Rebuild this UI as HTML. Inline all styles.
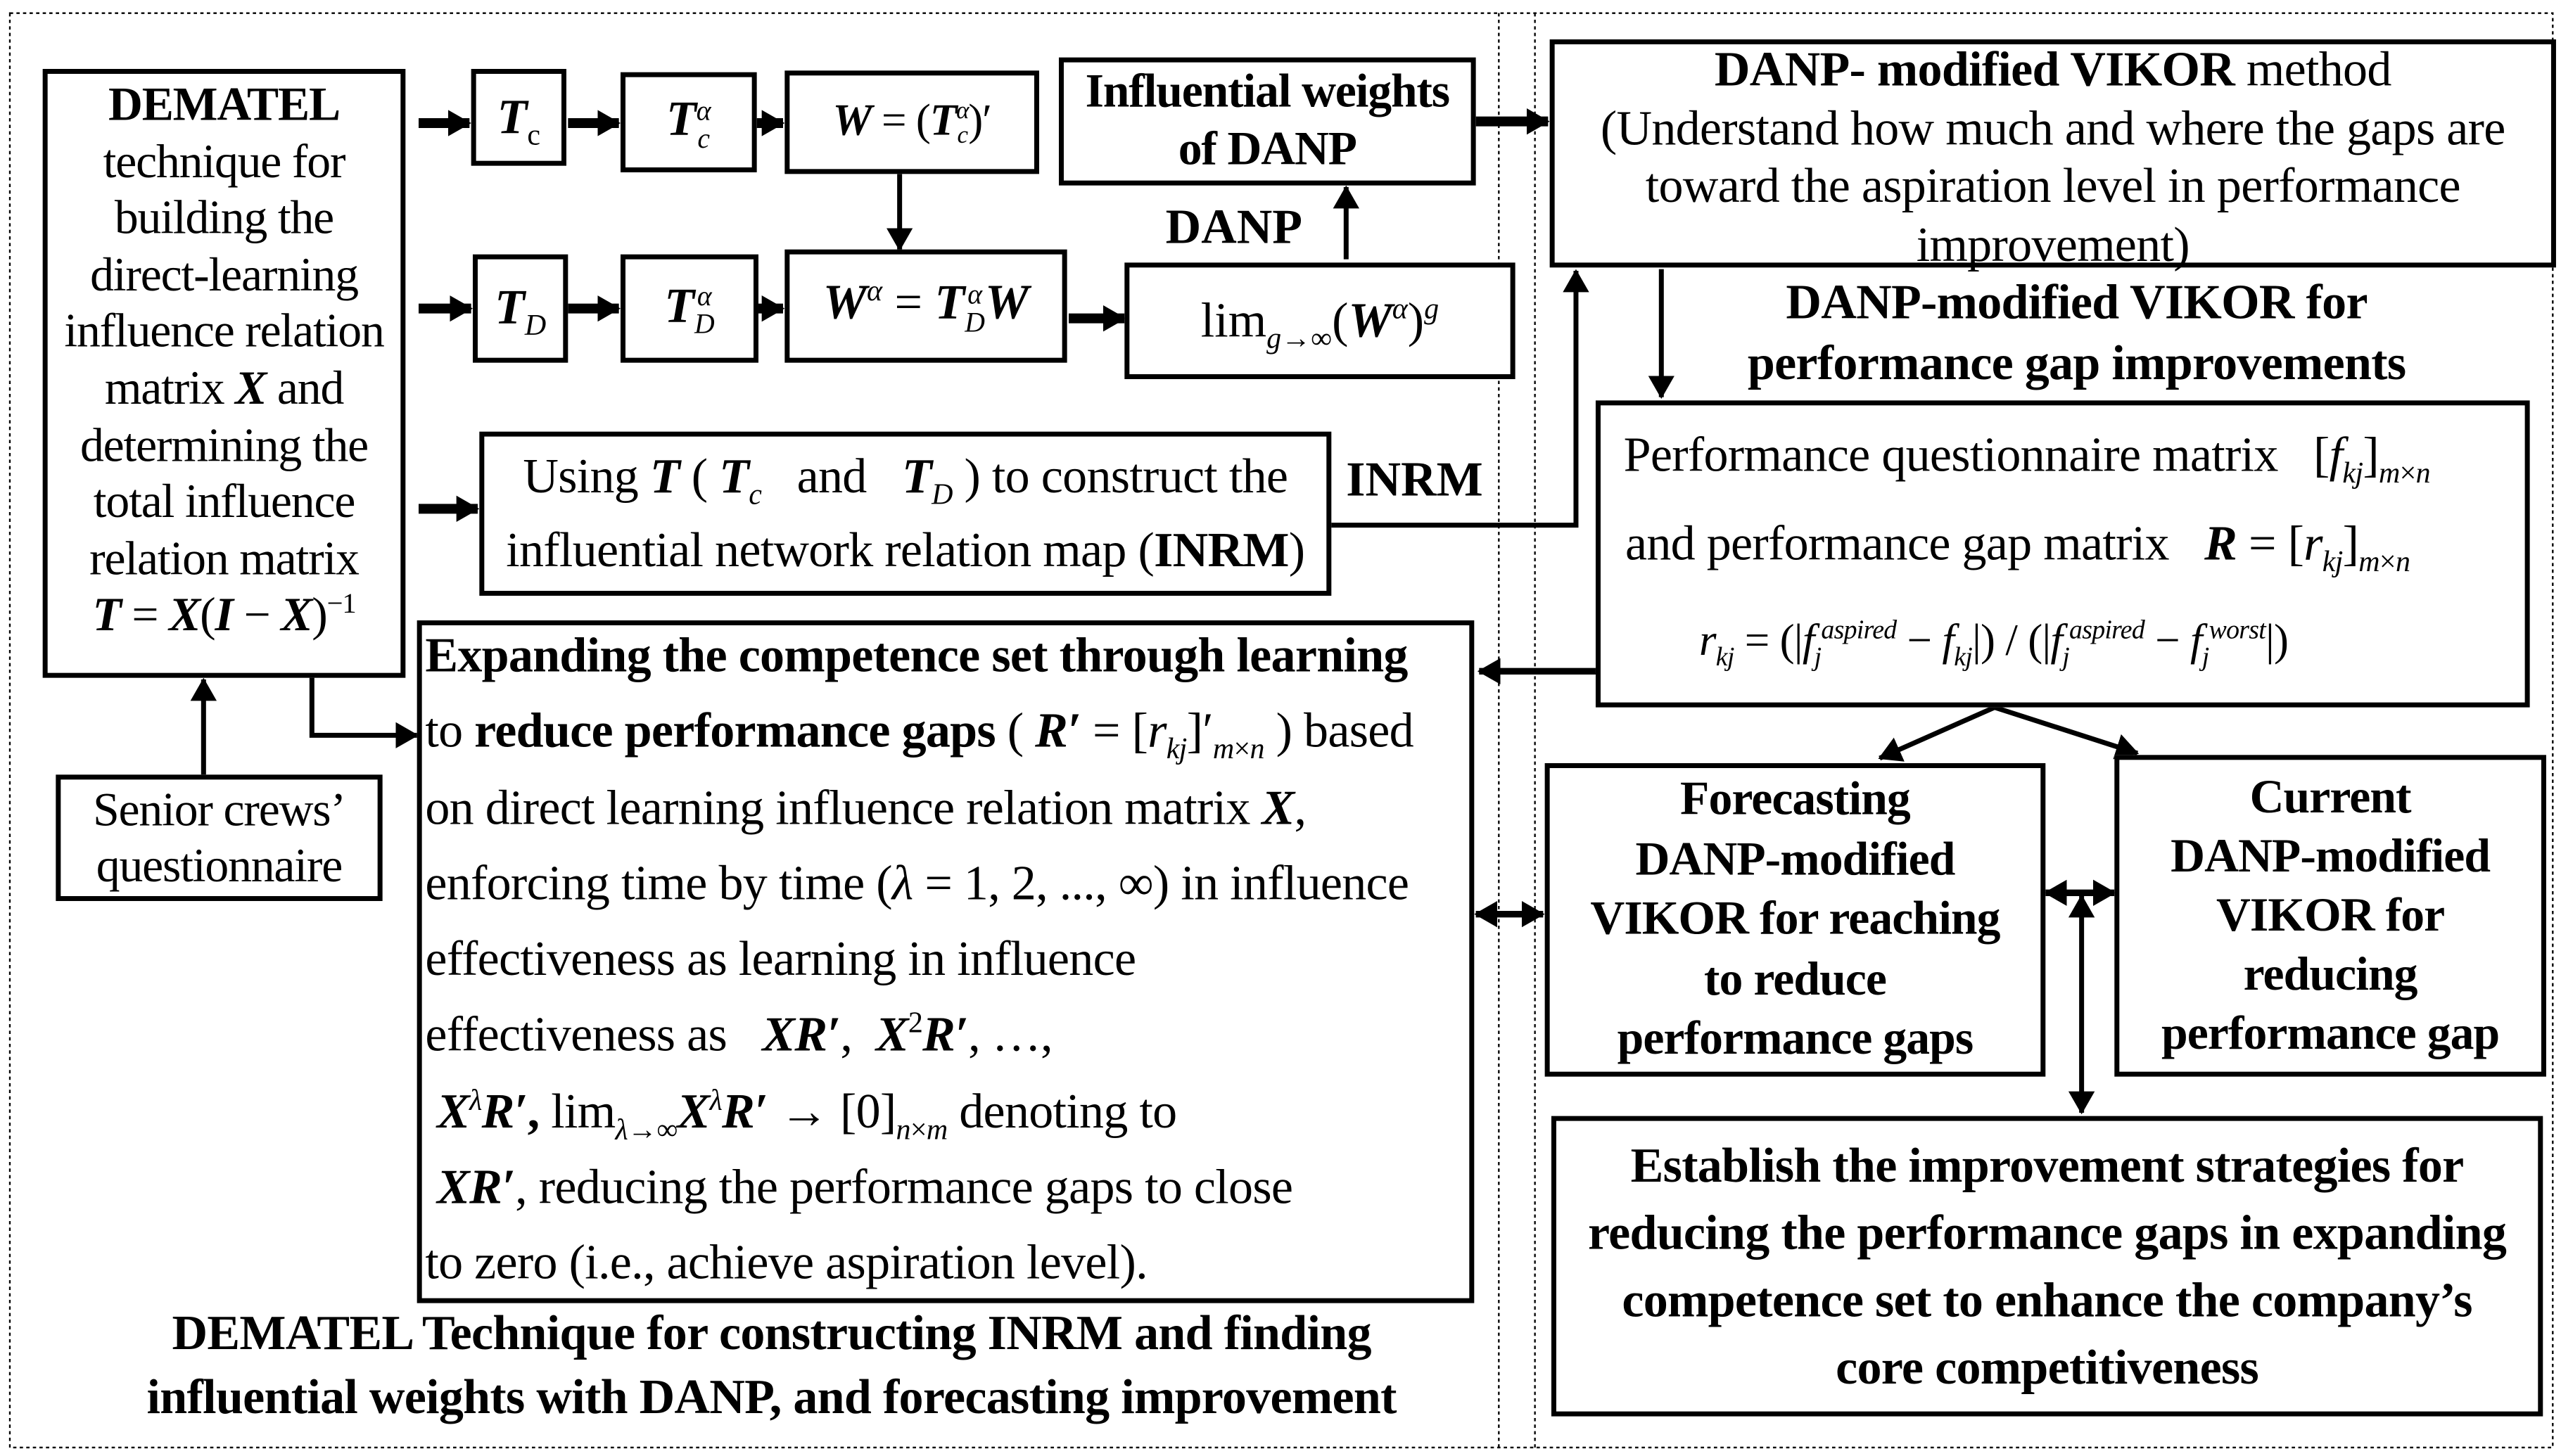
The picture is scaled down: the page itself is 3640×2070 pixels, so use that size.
<!DOCTYPE html>
<html><head><meta charset="utf-8"><style>
html,body{margin:0;padding:0;background:#fff;}
#wrap{position:relative;width:1560px;height:887px;transform:scale(2.3333);transform-origin:0 0;font-family:"Liberation Serif",serif;color:#000;}
.b{position:absolute;border:3px solid #000;box-sizing:border-box;background:#fff;}
.t{position:absolute;text-align:center;white-space:nowrap;}
.c{display:flex;align-items:center;justify-content:center;text-align:center;}
i{font-style:italic}
sub,sup{font-size:60%;line-height:0}
.bd{font-weight:bold}
.st{display:inline-flex;flex-direction:column;vertical-align:middle;line-height:17px;font-size:17px}
</style></head><body><div id="wrap">
<svg width="1560" height="887" style="position:absolute;left:0;top:0">
<defs><marker id="a" markerWidth="14" markerHeight="16" refX="13" refY="8" orient="auto" markerUnits="userSpaceOnUse"><path d="M0,0 L14,8 L0,16 z" fill="#000"/></marker>
<marker id="s" markerWidth="14" markerHeight="16" refX="1" refY="8" orient="auto" markerUnits="userSpaceOnUse"><path d="M14,0 L0,8 L14,16 z" fill="#000"/></marker></defs>
<rect x="6" y="8" width="1549" height="874" fill="none" stroke="#000" stroke-width="1" stroke-dasharray="2,2"/>
<line x1="913" y1="8" x2="913" y2="882" stroke="#000" stroke-width="1" stroke-dasharray="2,2"/>
<line x1="935" y1="8" x2="935" y2="882" stroke="#000" stroke-width="1" stroke-dasharray="2,2"/>
<g stroke="#000" fill="none">
<line x1="255" y1="75" x2="286" y2="75" stroke-width="6" marker-end="url(#a)" />
<line x1="346" y1="75" x2="377" y2="75" stroke-width="6" marker-end="url(#a)"/>
<line x1="461" y1="75" x2="477" y2="75" stroke-width="6" marker-end="url(#a)"/>
<line x1="255" y1="188" x2="287" y2="188" stroke-width="6" marker-end="url(#a)"/>
<line x1="346" y1="188" x2="377" y2="188" stroke-width="6" marker-end="url(#a)"/>
<line x1="462" y1="188" x2="477" y2="188" stroke-width="6" marker-end="url(#a)"/>
<line x1="651" y1="194" x2="685" y2="194" stroke-width="6" marker-end="url(#a)"/>
<line x1="255" y1="310" x2="291" y2="310" stroke-width="6" marker-end="url(#a)"/>
<line x1="899" y1="74" x2="943" y2="74" stroke-width="6" marker-end="url(#a)"/>
<line x1="548" y1="106" x2="548" y2="152" stroke-width="3" marker-end="url(#a)"/>
<line x1="820" y1="158" x2="820" y2="114" stroke-width="3" marker-end="url(#a)"/>
<polyline points="810,320 960,320 960,165" stroke-width="3" marker-end="url(#a)"/>
<line x1="1012" y1="164" x2="1012" y2="242" stroke-width="3" marker-end="url(#a)"/>
<line x1="972" y1="409" x2="901" y2="409" stroke-width="4" marker-end="url(#a)"/>
<polyline points="190,412 190,448 254,448" stroke-width="3" marker-end="url(#a)"/>
<line x1="124" y1="472" x2="124" y2="414" stroke-width="3" marker-end="url(#a)"/>
<line x1="1215" y1="431" x2="1145" y2="462" stroke-width="3" marker-end="url(#a)"/>
<line x1="1215" y1="431" x2="1302" y2="459" stroke-width="3" marker-end="url(#a)"/>
<line x1="899" y1="557" x2="940" y2="557" stroke-width="4" marker-end="url(#a)" marker-start="url(#s)"/>
<line x1="1246" y1="544" x2="1288" y2="544" stroke-width="4" marker-end="url(#a)" marker-start="url(#s)"/>
<line x1="1268" y1="546" x2="1268" y2="678" stroke-width="3" marker-end="url(#a)" marker-start="url(#s)"/>
</g></svg>

<div class="b t" style="left:26px;top:42px;width:221px;height:371px;font-size:29px;line-height:34.6px;padding-top:2px;letter-spacing:-0.5px"><span class="bd">DEMATEL</span><br>technique for<br>building the<br>direct-learning<br>influence relation<br>matrix <b><i>X</i></b> and<br>determining the<br>total influence<br>relation matrix<br><b><i>T</i></b> = <b><i>X</i></b>(<b><i>I</i></b> − <b><i>X</i></b>)<sup>−1</sup></div>

<div class="b c" style="left:287px;top:42px;width:58px;height:59px;font-size:30px"><span><b><i>T</i></b><sub>c</sub></span></div>
<div class="b c" style="left:378px;top:44px;width:83px;height:61px;font-size:30px"><span><b><i>T</i></b><span class="st"><i>α</i><i>c</i></span></span></div>
<div class="b c" style="left:478px;top:43px;width:155px;height:63px;font-size:27px;letter-spacing:-0.5px"><span><b><i>W</i></b> = (<b><i>T</i></b><span class="st" style="font-size:15px;line-height:15px"><i>α</i><i>c</i></span>)′</span></div>
<div class="b c bd" style="left:645px;top:35px;width:254px;height:78px;font-size:29px;line-height:35px;letter-spacing:-0.5px"><span>Influential weights<br>of DANP</span></div>
<div class="t bd" style="left:710px;top:122px;font-size:30px">DANP</div>

<div class="b c" style="left:288px;top:155px;width:58px;height:66px;font-size:30px"><span><b><i>T</i></b><sub><i>D</i></sub></span></div>
<div class="b c" style="left:378px;top:155px;width:84px;height:66px;font-size:30px"><span><b><i>T</i></b><span class="st"><i>α</i><i>D</i></span></span></div>
<div class="b c" style="left:478px;top:152px;width:172px;height:69px;font-size:30px"><span><b><i>W</i></b><sup><i>α</i></sup> = <b><i>T</i></b><span class="st"><i>α</i><i>D</i></span><b><i>W</i></b></span></div>
<div class="b c" style="left:685px;top:160px;width:238px;height:71px;font-size:30px"><span>lim<sub><i>g</i>→∞</sub>(<b><i>W</i></b><sup><i>α</i></sup>)<sup><i>g</i></sup></span></div>

<div class="b c" style="left:292px;top:263px;width:519px;height:100px;font-size:30px;line-height:45px;letter-spacing:-0.3px"><span>Using <b><i>T</i></b> ( <b><i>T</i></b><sub><i>c</i></sub> &nbsp; and &nbsp; <b><i>T</i></b><sub><i>D</i></sub> ) to construct the<br>influential network relation map (<b>INRM</b>)</span></div>
<div class="t bd" style="left:820px;top:276px;font-size:30px">INRM</div>

<div class="b" style="left:254px;top:378px;width:644px;height:416px;font-size:30px;line-height:46.3px;padding:0 0 0 2px;white-space:nowrap;letter-spacing:-0.3px"><div style="margin-top:-4px">
<b>Expanding the competence set through learning</b><br>
to <b>reduce performance gaps</b> ( <b><i>R′</i></b> = [<i>r<sub>kj</sub></i>]′<sub><i>m</i>×<i>n</i></sub> ) based<br>
on direct learning influence relation matrix <b><i>X</i></b>,<br>
enforcing time by time (<i>λ</i> = 1, 2, ..., ∞) in influence<br>
effectiveness as learning in influence<br>
effectiveness as &nbsp; <b><i>XR′</i></b>, &nbsp;<b><i>X</i></b><sup>2</sup><b><i>R′</i></b>, …,<br>
&nbsp;<b><i>X</i></b><sup><i>λ</i></sup><b><i>R′</i>,</b> lim<sub><i>λ</i>→∞</sub><b><i>X</i></b><sup><i>λ</i></sup><b><i>R′</i></b> → [0]<sub><i>n</i>×<i>m</i></sub> denoting to<br>
&nbsp;<b><i>XR′</i></b>, reducing the performance gaps to close<br>
to zero (i.e., achieve aspiration level).</div></div>

<div class="b c" style="left:34px;top:472px;width:199px;height:77px;font-size:29px;line-height:34px;letter-spacing:-0.5px"><span>Senior crews’<br>questionnaire</span></div>
<div class="t bd" style="left:20px;top:793px;width:900px;font-size:30px;line-height:39px;letter-spacing:-0.3px">DEMATEL Technique for constructing INRM and finding<br>influential weights with DANP, and forecasting improvement</div>

<div class="b" style="left:944px;top:24px;width:613px;height:139px;font-size:30px;line-height:35.5px;text-align:center;letter-spacing:-0.3px"><div style="margin-top:-2px"><b>DANP- modified VIKOR</b> method<br>(Understand how much and where the gaps are<br>toward the aspiration level in performance<br>improvement)</div></div>
<div class="t bd" style="left:980px;top:166px;width:570px;font-size:30px;line-height:37px;letter-spacing:-0.3px">DANP-modified VIKOR for<br>performance gap improvements</div>

<div class="b" style="left:972px;top:244px;width:569px;height:187px;font-size:30px;letter-spacing:-0.3px">
<div style="position:absolute;left:14px;top:14px;white-space:nowrap">Performance questionnaire matrix &nbsp; [<i>f<sub>kj</sub></i>]<sub><i>m</i>×<i>n</i></sub></div>
<div style="position:absolute;left:15px;top:68px;white-space:nowrap">and performance gap matrix &nbsp; <b><i>R</i></b> = [<i>r<sub>kj</sub></i>]<sub><i>m</i>×<i>n</i></sub></div>
<div style="position:absolute;left:60px;top:128px;white-space:nowrap;font-size:27px"><i>r<sub>kj</sub></i> = (|<i>f</i><sub><i>j</i></sub><sup><i>aspired</i></sup> − <i>f<sub>kj</sub></i>|) / (|<i>f</i><sub><i>j</i></sub><sup><i>aspired</i></sup> − <i>f</i><sub><i>j</i></sub><sup><i>worst</i></sup>|)</div>
</div>

<div class="b c bd" style="left:941px;top:465px;width:305px;height:191px;font-size:29px;line-height:36.5px;letter-spacing:-0.4px"><span>Forecasting<br>DANP-modified<br>VIKOR for reaching<br>to reduce<br>performance gaps</span></div>
<div class="b c bd" style="left:1288px;top:460px;width:263px;height:196px;font-size:29px;line-height:36px;letter-spacing:-0.4px"><span>Current<br>DANP-modified<br>VIKOR for<br>reducing<br>performance gap</span></div>
<div class="b c bd" style="left:945px;top:680px;width:604px;height:183px;font-size:30px;line-height:41px;letter-spacing:-0.3px"><span>Establish the improvement strategies for<br>reducing the performance gaps in expanding<br>competence set to enhance the company’s<br>core competitiveness</span></div>
</div></body></html>
